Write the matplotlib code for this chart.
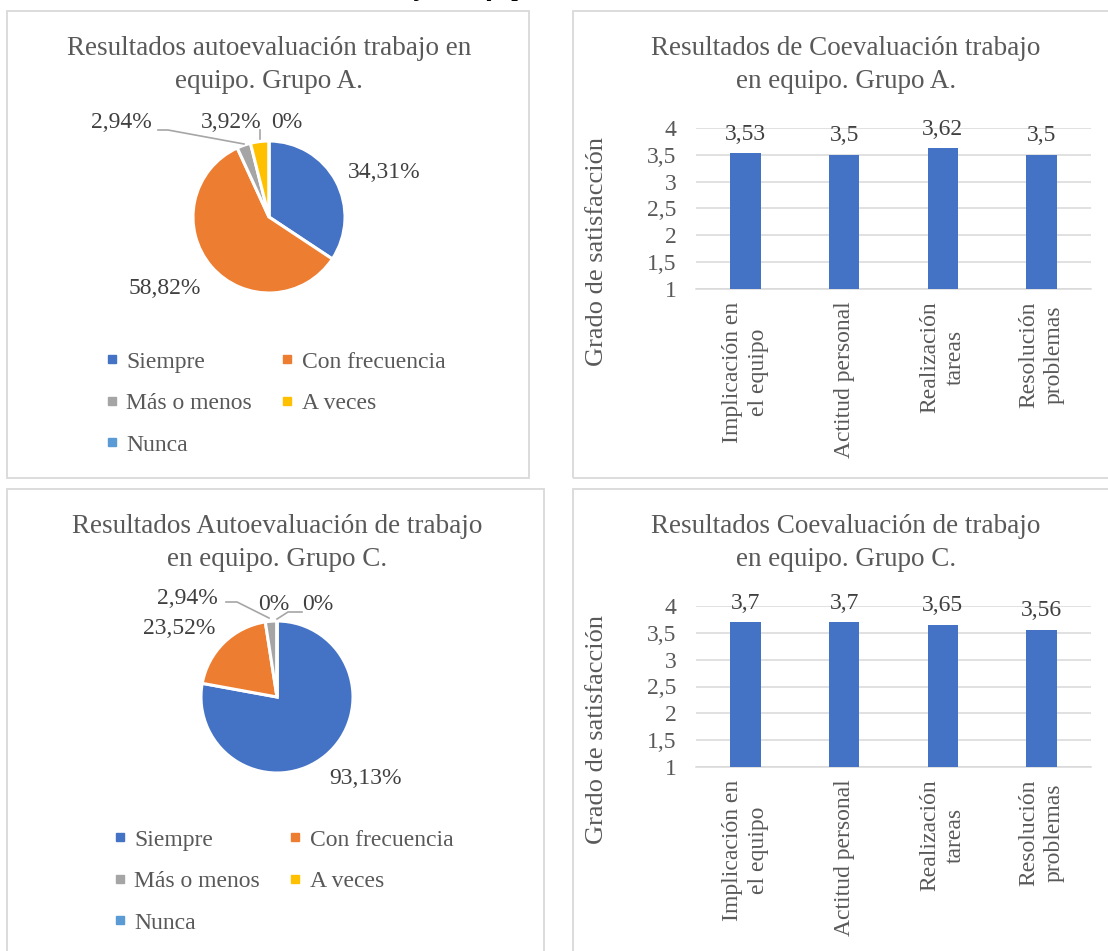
import matplotlib

matplotlib.use("Agg")
import matplotlib.pyplot as plt
from matplotlib.lines import Line2D
from matplotlib.patches import Rectangle

W, H = 1108, 951
plt.rcParams["font.family"] = ["Liberation Serif", "DejaVu Serif"]

# ---- data ----
pie_labels = ["Siempre", "Con frecuencia", "Más o menos", "A veces", "Nunca"]
pie_colors = ["#4472c4", "#ed7d31", "#a5a5a5", "#ffc000", "#5b9bd5"]
pie_a = [34.31, 58.82, 2.94, 3.92, 0]
pie_c = [93.13, 23.52, 2.94, 0, 0]

bar_cats = ["Implicación en\nel equipo", "Actitud personal",
            "Realización\ntareas", "Resolución\nproblemas"]
bar_a = [3.53, 3.5, 3.62, 3.5]
bar_c = [3.7, 3.7, 3.65, 3.56]
y_ticks = [1, 1.5, 2, 2.5, 3, 3.5, 4]

TITLE_C = "#595959"
LABEL_C = "#404040"
GRID_C = "#d9d9d9"


def fmt(v):
    return ("%g" % v).replace(".", ",")


def fx(px):
    return px / W


def fy(py):
    return 1 - py / H


def fbox(x0, y0, x1, y1):
    return [x0 / W, 1 - y1 / H, (x1 - x0) / W, (y1 - y0) / H]


fig = plt.figure(figsize=(W / 100, H / 100), dpi=100)

# panel frames
for x0, y0, x1, y1 in [(7, 11, 529, 478), (573, 11, 1125, 478),
                       (7, 489, 544, 965), (573, 489, 1125, 965)]:
    fig.add_artist(Rectangle((fx(x0), fy(y1)), (x1 - x0) / W, (y1 - y0) / H,
                             transform=fig.transFigure, fill=False,
                             edgecolor=GRID_C, lw=1.3))

# heading of the page, only its lower edge shows at the top
fig.text(fx(395), fy(-4), "Resultados trabajo en equipo", ha="center", va="baseline",
         fontsize=17, fontweight="bold", fontstyle="italic", color="black")


def pie_panel(vals, center, r, title, title_y, label_pos, leaders, legend_xy):
    cx, cy = center
    ax = fig.add_axes(fbox(cx - r, cy - r, cx + r, cy + r))
    ax.pie(vals, colors=pie_colors, startangle=90, counterclock=False,
           wedgeprops=dict(edgecolor="white", linewidth=2.2))
    ax.set_xlim(-1, 1)
    ax.set_ylim(-1, 1)
    ax.set_aspect("equal")
    ax.axis("off")
    fig.text(fx(cx), fy(title_y), title, ha="center", va="center",
             fontsize=19.5, color=TITLE_C, linespacing=1.42)
    for v, (px, py) in zip(vals, label_pos):
        fig.text(fx(px), fy(py), fmt(v) + "%", ha="center", va="center",
                 fontsize=17, color=LABEL_C)
    for xs, ys in leaders:
        fig.add_artist(Line2D([fx(x) for x in xs], [fy(y) for y in ys],
                              transform=fig.transFigure, color="#a6a6a6", lw=1.2))
    order = [0, 2, 4, 1, 3]
    handles = [Line2D([], [], marker="s", ls="none", markersize=6,
                      color=pie_colors[i]) for i in order]
    fig.legend(handles, [pie_labels[i] for i in order], loc="upper left",
               bbox_to_anchor=(fx(legend_xy[0]), fy(legend_xy[1])), ncol=2,
               frameon=False, fontsize=17, labelcolor=TITLE_C, handlelength=0.6,
               handletextpad=0.3, columnspacing=1.2, labelspacing=0.85,
               borderaxespad=0, borderpad=0)


def bar_panel(vals, y_top, y_bot, title, title_y, ylabel_y):
    ax = fig.add_axes(fbox(696, y_top, 1091, y_bot))
    x = list(range(len(vals)))
    bars = ax.bar(x, vals, width=0.31, color="#4472c4", zorder=3)
    ax.set_xlim(-0.5, len(vals) - 0.5)
    ax.set_ylim(1, 4)
    ax.set_yticks(y_ticks)
    ax.set_yticklabels([fmt(t) for t in y_ticks])
    ax.set_xticks(x)
    ax.set_xticklabels(bar_cats, rotation=90, va="top", ha="center",
                       multialignment="center", linespacing=1.29)
    ax.tick_params(axis="y", length=0, pad=14, labelsize=17, labelcolor=TITLE_C)
    ax.tick_params(axis="x", length=0, pad=9, labelsize=17, labelcolor=TITLE_C)
    ax.yaxis.grid(True, color=GRID_C, lw=1.1, zorder=0)
    for s in ["top", "right", "left"]:
        ax.spines[s].set_visible(False)
    ax.spines["bottom"].set_color(GRID_C)
    ax.spines["bottom"].set_linewidth(1.1)
    ax.bar_label(bars, labels=[fmt(v) for v in vals], padding=6, fontsize=17,
                 color=LABEL_C)
    fig.text(fx(846), fy(title_y), title, ha="center", va="center",
             fontsize=19.5, color=TITLE_C, linespacing=1.42)
    fig.text(fx(597), fy(ylabel_y), "Grado de satisfacción", rotation=90,
             ha="center", va="center", fontsize=19, color=TITLE_C)


pie_panel(pie_a, (269, 217), 76,
          "Resultados autoevaluación trabajo en\nequipo. Grupo A.", 65,
          [(384, 172), (165, 288), (121, 123), (231, 122), (287, 122)],
          [([158, 168, 244], [130, 130, 144]), ([260, 260], [130, 139])],
          (105, 351))

pie_panel(pie_c, (277, 697), 76,
          "Resultados Autoevaluación de trabajo\nen equipo. Grupo C.", 543,
          [(366, 778), (179, 628), (187, 598), (274, 605), (318, 605)],
          [([226, 237, 269], [602, 602, 618]), ([277, 288, 302], [619, 612, 612])],
          (113, 829))

bar_panel(bar_a, 128, 289, "Resultados de Coevaluación trabajo\nen equipo. Grupo A.", 65, 251)
bar_panel(bar_c, 606, 767, "Resultados Coevaluación de trabajo\nen equipo. Grupo C.", 543, 729)

fig.savefig("out.png", dpi=100)
